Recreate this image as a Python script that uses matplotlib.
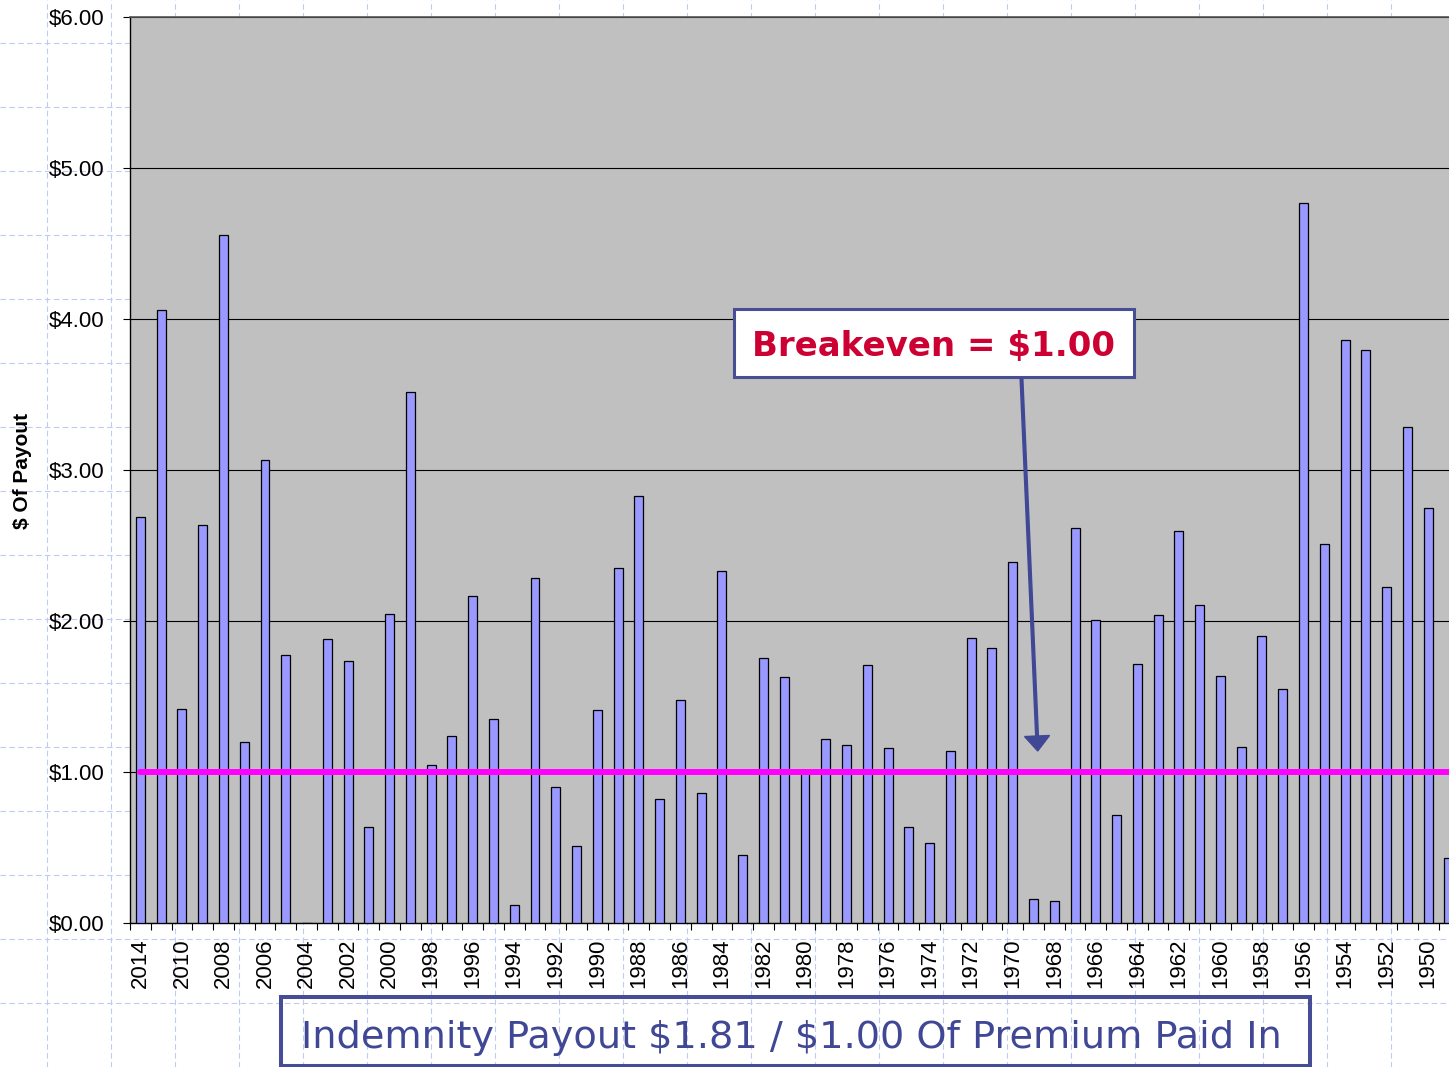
import matplotlib
matplotlib.use('Agg')
import matplotlib.pyplot as plt
import numpy as np
from matplotlib.patches import Rectangle, FancyArrow
from matplotlib.ticker import FuncFormatter

# ---------------- data ----------------
years = ["2014", "2012", "2010", "2009", "2008", "2007", "2006", "2005", "2004", "2003",
         "2002", "2001", "2000", "1999", "1998", "1997", "1996", "1995", "1994", "1993",
         "1992", "1991", "1990", "1989", "1988", "1987", "1986", "1985", "1984", "1983",
         "1982", "1981", "1980", "1979", "1978", "1977", "1976", "1975", "1974", "1973",
         "1972", "1971", "1970", "1969", "1968", "1967", "1966", "1965", "1964", "1963",
         "1962", "1961", "1960", "1959", "1958", "1957", "1956", "1955", "1954", "1953",
         "1952", "1951", "1950", "1949"]

payout = [2.69, 4.06, 1.42, 2.64, 4.56, 1.20, 3.07, 1.78, 0.00, 1.88,
          1.74, 0.64, 2.05, 3.52, 1.05, 1.24, 2.17, 1.35, 0.12, 2.29,
          0.90, 0.51, 1.41, 2.35, 2.83, 0.82, 1.48, 0.86, 2.33, 0.45,
          1.76, 1.63, 1.00, 1.22, 1.18, 1.71, 1.16, 0.64, 0.53, 1.14,
          1.89, 1.82, 2.39, 0.16, 0.15, 2.62, 2.01, 0.72, 1.72, 2.04,
          2.60, 2.11, 1.64, 1.17, 1.90, 1.55, 4.77, 2.51, 3.86, 3.80,
          2.23, 3.29, 2.75, 0.43]

breakeven = [1.00] * len(years)

y_ticks = [0, 1, 2, 3, 4, 5, 6]

# ---------------- figure ----------------
W, H = 1449, 1067
fig = plt.figure(figsize=(W / 100, H / 100), dpi=100)
fig.patch.set_facecolor('white')
plt.rcParams['font.family'] = ['Liberation Sans', 'DejaVu Sans']

# slide background dashed grid
bg = fig.add_axes([0, 0, 1, 1], zorder=0)
bg.set_xlim(0, W)
bg.set_ylim(H, 0)
bg.axis('off')
for yy in np.arange(43.3, H, 64.0):
    bg.axhline(yy, color='#BFCBF5', lw=0.8, ls=(0, (5, 3)))
for xx in np.arange(46.7, W, 64.0):
    bg.axvline(xx, color='#BFCBF5', lw=0.8, ls=(0, (5, 3)))

# main chart
ax = fig.add_axes([130 / W, 1 - 923.3 / H, (W - 130) / W, 906 / H], zorder=1)
ax.set_facecolor('#C0C0C0')
x = np.arange(len(years))
ax.bar(x, payout, width=0.43, color='#9999FF', edgecolor='black', linewidth=0.9, zorder=3)
ax.plot(x, breakeven, color='#FF00FF', lw=4.3, solid_capstyle='round', zorder=4)

ax.set_yticks(y_ticks)
ax.yaxis.set_major_formatter(FuncFormatter(lambda v, p: "${:.2f}".format(v)))
ax.yaxis.grid(True, color='black', lw=0.8)
ax.set_axisbelow(True)
ax.tick_params(axis='y', direction='out', length=5, width=0.8, pad=13.5, labelsize=16)

ax.set_xticks(x[::2])
ax.set_xticklabels(years[::2], rotation=90, fontsize=16)
ax.set_xticks(np.arange(-0.5, len(years), 1), minor=True)
ax.tick_params(axis='x', which='major', length=0, pad=10.8)
ax.tick_params(axis='x', which='minor', length=5, width=0.8, direction='out')

ax.set_ylim(0, 6)
ax.set_xlim(-0.5, -0.5 + (W - 130) / 20.77)

for s in ['left', 'bottom']:
    ax.spines[s].set_color('black')
    ax.spines[s].set_linewidth(1.0)
ax.spines['top'].set_color('#555555')
ax.spines['top'].set_linewidth(1.2)
ax.spines['right'].set_visible(False)

fig.text(23 / W, 1 - 471 / H, '$ Of Payout', rotation=90, ha='center', va='center',
         fontsize=15, fontweight='bold')

# overlay annotations
ov = fig.add_axes([0, 0, 1, 1], zorder=5)
ov.set_xlim(0, W)
ov.set_ylim(H, 0)
ov.axis('off')
ov.patch.set_alpha(0)

ov.add_patch(Rectangle((733.5, 308.5), 400, 68, facecolor='white', edgecolor='#474E96', lw=2.2))
ov.text(933.5, 355.7, 'Breakeven = $1.00', color='#CC0033', fontsize=24.5, fontweight='bold',
        family='DejaVu Sans', ha='center', va='baseline')
ov.add_patch(FancyArrow(1021.5, 379, 16.2, 372, width=2.7, head_width=25, head_length=15,
                        length_includes_head=True, color='#404896'))

ov.add_patch(Rectangle((281.3, 997), 1029, 69, fill=False, edgecolor='#464D96', lw=2.9))
ov.text(791, 1048, 'Indemnity Payout $1.81 / $1.00 Of Premium Paid In', color='#404896',
        fontsize=27.5, family='DejaVu Sans', ha='center', va='baseline', parse_math=False)

fig.savefig('out.png', dpi=100)
